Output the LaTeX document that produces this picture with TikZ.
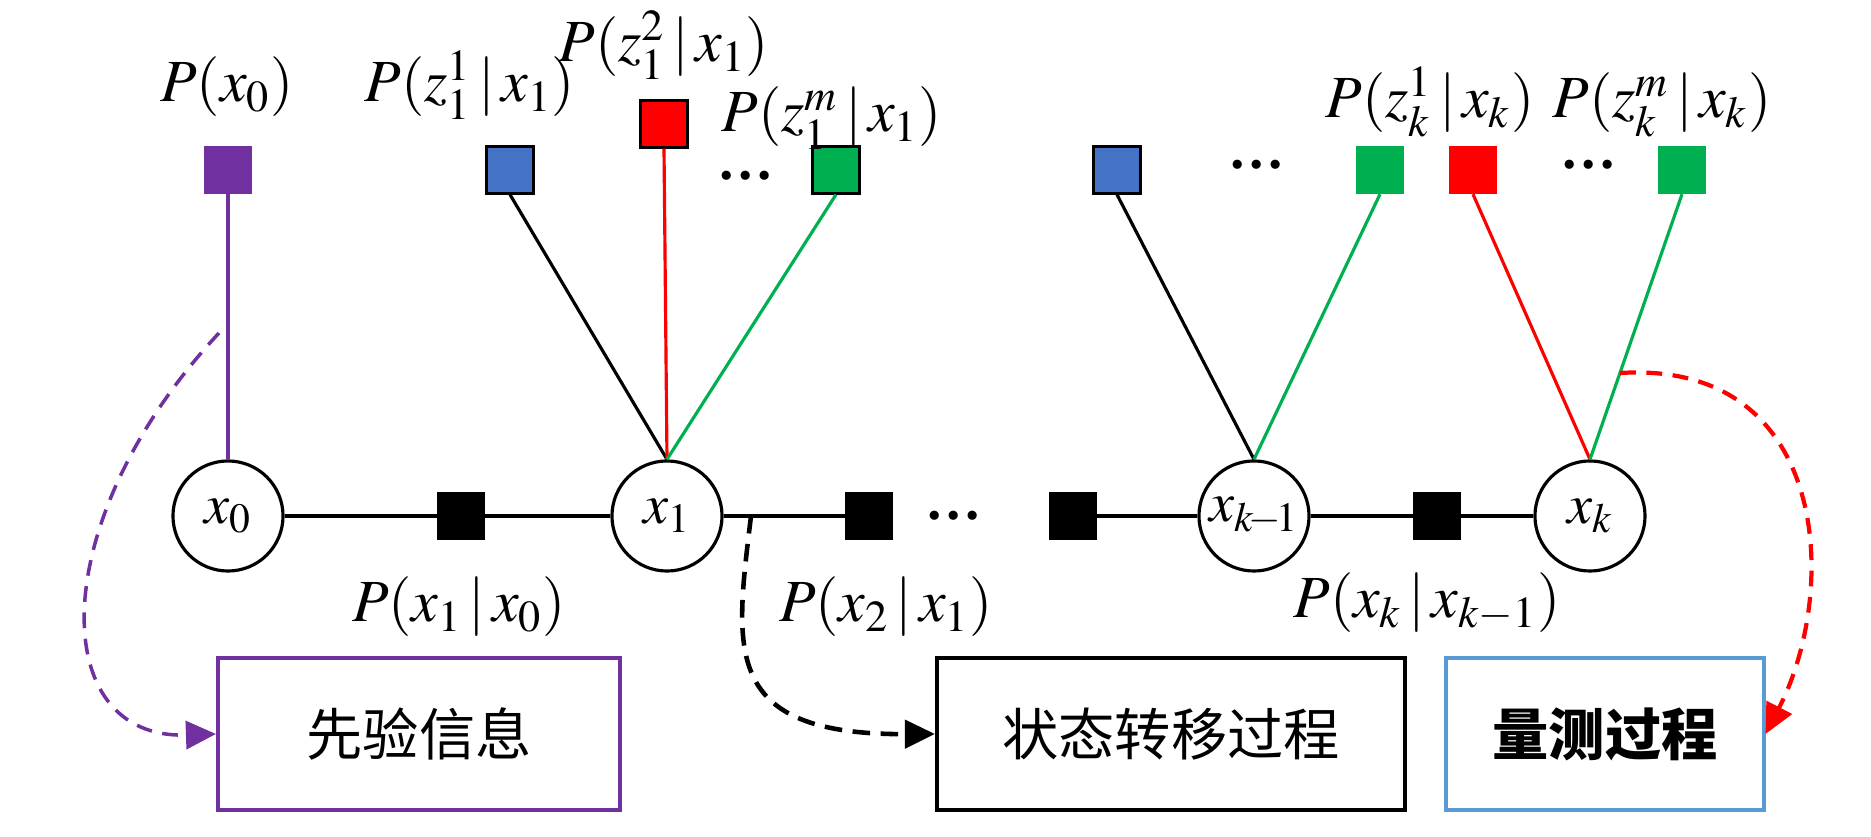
\documentclass[tikz,border=0pt]{standalone}
\usepackage{mathptmx}
\usepackage[no-math]{fontspec}
\setmainfont{Liberation Serif}
\newfontfamily\cjk{Noto Sans CJK SC}
\usetikzlibrary{arrows.meta}
\definecolor{vpurple}{RGB}{112,48,160}
\definecolor{vblue}{RGB}{68,114,196}
\definecolor{vgreen}{RGB}{0,176,80}
\definecolor{vred}{RGB}{255,0,0}
\definecolor{bxblue}{RGB}{91,155,213}
\newcommand{\given}{\,|\,}
\begin{document}
\begin{tikzpicture}[x=0.01cm,y=-0.01cm,
  var/.style={circle,draw,line width=0.9pt,minimum size=1.1cm,inner sep=0pt,font=\fontsize{16}{19}\selectfont},
  fac/.style={fill=black,minimum size=0.47cm,inner sep=0pt},
  obs/.style={minimum size=0.47cm,inner sep=0pt},
  lbl/.style={anchor=base,inner sep=0pt,font=\fontsize{17}{20}\selectfont},
  dts/.style={inner sep=0pt,font=\bfseries\fontsize{16}{18}\selectfont},
  procbox/.style={draw,line width=1.1pt,minimum height=1.52cm,inner sep=0pt,font=\cjk\fontsize{16}{20}\selectfont},
  edge/.style={line width=0.9pt},
  flow/.style={dashed,line width=1pt,-{Triangle[length=0.3cm,width=0.28cm]}}]
\useasboundingbox (0,0) rectangle (1871,837);
% chain of states and transition factors
\node[var] (x0) at (228,516) {$x_0$};
\node[fac] (f1) at (461,516) {};
\node[var] (x1) at (667,516) {$x_1$};
\node[fac] (f2) at (869,516) {};
\node[dts] (dd) at (954,516) {…};
\node[fac] (f3) at (1073,516) {};
\node[var] (xkm) at (1254,516) {$x_{k\!-\!1}$};
\node[fac] (f4) at (1437,516) {};
\node[var] (xk) at (1590,516) {$x_k$};
\draw[edge] (x0) -- (f1) -- (x1) -- (f2);
\draw[edge] (f3) -- (xkm) -- (f4) -- (xk);
% prior and measurement factors
\node[obs,fill=vpurple] (p0) at (228,170) {};
\node[obs,fill=vblue,draw,line width=0.6pt] (z11) at (510,170) {};
\node[obs,fill=vred,draw,line width=0.6pt] (z12) at (664,124) {};
\node[dts] (d1) at (746,176) {…};
\node[obs,fill=vgreen,draw,line width=0.6pt] (z1m) at (836,170) {};
\node[obs,fill=vblue,draw,line width=0.6pt] (zm1) at (1117,170) {};
\node[dts] (d2) at (1257,165) {…};
\node[obs,fill=vgreen] (zmm) at (1380,170) {};
\node[obs,fill=vred] (zk1) at (1473,170) {};
\node[dts] (d3) at (1589,165) {…};
\node[obs,fill=vgreen] (zkm) at (1682,170) {};
\draw[edge,vpurple] (p0) -- (x0);
\draw[edge] (z11.south) -- (x1.north);
\draw[edge,vred] (z12.south) -- (x1.north);
\draw[edge,vgreen] (z1m.south) -- (x1.north);
\draw[edge] (zm1.south) -- (xkm.north);
\draw[edge,vgreen] (zmm.south) -- (xkm.north);
\draw[edge,vred] (zk1.south) -- (xk.north);
\draw[edge,vgreen] (zkm.south) -- (xk.north);
% labels
\node[lbl] (lp0) at (227,102) {$P(x_0)$};
\node[lbl] (l11) at (470,102) {$P(z_1^1\given x_1)$};
\node[lbl] (l12) at (664,62) {$P(z_1^2\given x_1)$};
\node[lbl] (l1m) at (832,132) {$P(z_1^m\given x_1)$};
\node[lbl] (lk1) at (1430,118) {$P(z_k^1\given x_k)$};
\node[lbl] (lkm) at (1662,118) {$P(z_k^m\given x_k)$};
\node[lbl] (lf1) at (459,622) {$P(x_1\given x_0)$};
\node[lbl] (lf2) at (886,622) {$P(x_2\given x_1)$};
\node[lbl] (lf4) at (1427,618) {$P(x_k\given x_{k-1})$};
% process boxes
\node[procbox,vpurple,minimum width=4.02cm] (b1) at (419,734) {\color{black}先验信息};
\node[procbox,minimum width=4.68cm] (b2) at (1171,734) {状态转移过程};
\node[procbox,bxblue,minimum width=3.17cm] (b3) at (1605,734) {\color{black}\bfseries 量测过程};
% dashed links
\coordinate (pa) at (219,333);
\coordinate (pb) at (751,516);
\coordinate (pc) at (1620,373);
\draw[flow,vpurple,dash pattern=on 4.5pt off 3pt] (pa) .. controls (45,520) and (45,740) .. (b1.west);
\draw[flow,line width=1.3pt,dash pattern=on 5pt off 3pt] (pb) .. controls (735,650) and (720,735) .. (b2.west);
\draw[flow,vred,line width=1.2pt,dash pattern=on 4.5pt off 3pt] (pc) .. controls (1830,360) and (1840,590) .. (b3.east);
\end{tikzpicture}
\end{document}
